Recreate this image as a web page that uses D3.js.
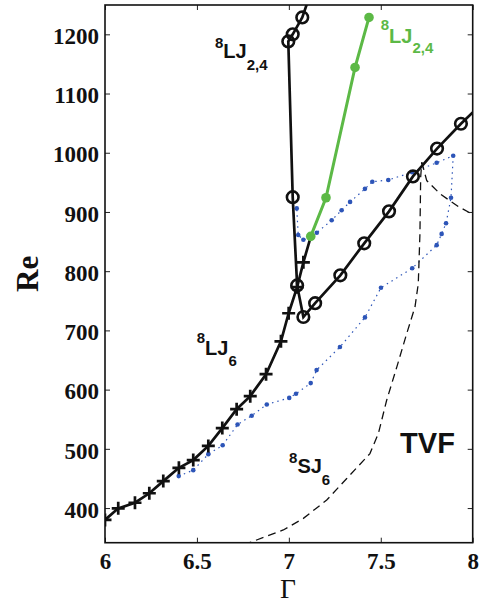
<!DOCTYPE html>
<html lang="en">
<head>
<meta charset="utf-8">
<title>Re vs Gamma</title>
<script src="https://cdn.jsdelivr.net/npm/d3@7"></script>
<style>
  body {margin: 0; background: white;}
  svg {display: block; background: white;}
  .tick text {font-family: "Liberation Serif", "Times New Roman", serif; font-weight: bold; font-size: 23px; fill: #111;}
  .lbl {font-family: "Liberation Sans", Arial, sans-serif; font-weight: bold;}
</style>
</head>
<body>
<svg width="482" height="604"></svg>
<script>
// tick values
var gammaTicks = [6, 6.5, 7, 7.5, 8];
var reTicks = [400, 500, 600, 700, 800, 900, 1000, 1100, 1200];

// 8LJ6 branch (crosses), last point joins the green branch
var crossGamma = [6.0, 6.072, 6.163, 6.241, 6.317, 6.402, 6.48, 6.562, 6.638, 6.716, 6.79, 6.876, 6.957, 6.999, 7.045, 7.079, 7.119];
var crossRe    = [380, 399.5, 409, 425, 445.5, 468, 481, 505, 535, 567, 589, 626, 681.6, 729, 773, 815, 858];

// 8LJ2,4 black branch (open circles), first and last points run off the frame
var circGamma = [7.11, 7.073, 7.021, 6.997, 7.021, 7.045, 7.079, 7.143, 7.28, 7.41, 7.545, 7.675, 7.806, 7.936, 8.0];
var circRe    = [1262, 1228.5, 1200, 1188, 925, 776, 722.6, 746, 793, 847, 901, 960, 1007, 1049, 1068];
var circHasMarker = [false, true, true, true, true, true, true, true, true, true, true, true, true, true, false];

// 8LJ2,4 green branch
var greenGamma = [7.119, 7.202, 7.36, 7.436];
var greenRe    = [858.7, 924, 1144, 1228.5];

// blue dotted loop
var blueGamma = [6.401, 6.480, 6.562, 6.640, 6.721, 6.798, 6.880, 7.002, 7.039, 7.119, 7.151, 7.278, 7.414, 7.501, 7.671, 7.804, 7.831, 7.855, 7.882, 7.894,
                 7.804, 7.67, 7.541, 7.454, 7.414, 7.333, 7.287, 7.233, 7.152, 7.124, 7.079, 7.051, 7.043];
var blueRe    = [454, 464, 491, 506, 541, 556, 575, 586, 593, 611, 633, 672, 722, 772, 805, 844, 863, 881, 924, 995,
                 983, 967, 954, 951, 939, 917, 903, 886, 865, 856, 853, 861, 906];

// 8SJ6 dashed boundary and its kink toward the right edge
var sjGamma = [6.76, 6.79, 6.970, 7.079, 7.206, 7.315, 7.441, 7.487, 7.532, 7.587, 7.641, 7.686, 7.704, 7.713, 7.717, 7.723];
var sjRe    = [335, 342, 363, 382.6, 413.5, 450, 492, 526, 582, 638, 694.6, 739.5, 779, 863, 958.7, 984];
var kinkGamma = [7.723, 7.75, 7.822, 7.922, 8.0];
var kinkRe    = [984, 953, 930.7, 909, 896];

var svg = d3.select('svg');
var mLeft = 105, mRight = 472.7, mTop = 5, mBottom = 542.7;

var x = d3.scaleLinear().domain([6, 8]).range([mLeft, mRight]);
var y = d3.scaleLinear().domain([341.5, 1249.5]).range([mBottom, mTop]);

svg.append('clipPath').attr('id', 'clip')
  .append('rect').attr('x', mLeft).attr('y', mTop).attr('width', mRight - mLeft).attr('height', mBottom - mTop);

var plot = svg.append('g').attr('clip-path', 'url(#clip)');

function pts(gs, rs) {
  return gs.map(function(g, i) { return [g, rs[i]]; });
}
var line = d3.line().x(function(d) { return x(d[0]); }).y(function(d) { return y(d[1]); });

var blue = '#2d55b8', green = '#5cb946';

// blue dotted loop
var bluePts = pts(blueGamma, blueRe);
plot.append('path').attr('d', line(bluePts))
  .attr('fill', 'none').attr('stroke', blue).attr('stroke-width', 1.2)
  .attr('stroke-dasharray', '1.5,4');
plot.selectAll('circle.bdot').data(bluePts).enter()
  .append('circle').attr('class', 'bdot')
  .attr('cx', function(d) { return x(d[0]); })
  .attr('cy', function(d) { return y(d[1]); })
  .attr('r', 2.3).attr('fill', blue);

// dashed lines
plot.append('path').attr('d', line(pts(sjGamma, sjRe)))
  .attr('fill', 'none').attr('stroke', '#111').attr('stroke-width', 1.3)
  .attr('stroke-dasharray', '8,5');
plot.append('path').attr('d', line(pts(kinkGamma, kinkRe)))
  .attr('fill', 'none').attr('stroke', '#111').attr('stroke-width', 1.3)
  .attr('stroke-dasharray', '8,5');

// crosses branch
var crossPts = pts(crossGamma, crossRe);
plot.append('path').attr('d', line(crossPts))
  .attr('fill', 'none').attr('stroke', '#111').attr('stroke-width', 2.7);
plot.selectAll('path.cross').data(crossPts.slice(0, -1)).enter()
  .append('path').attr('class', 'cross')
  .attr('transform', function(d) { return 'translate(' + x(d[0]) + ',' + y(d[1]) + ')'; })
  .attr('d', 'M-6.5,0H6.5M0,-6.5V6.5')
  .attr('stroke', '#111').attr('stroke-width', 2.7);

// circles branch
var circPts = pts(circGamma, circRe);
plot.append('path').attr('d', line(circPts))
  .attr('fill', 'none').attr('stroke', '#111').attr('stroke-width', 2.7);
plot.selectAll('circle.ring').data(circPts.filter(function(d, i) { return circHasMarker[i]; })).enter()
  .append('circle').attr('class', 'ring')
  .attr('cx', function(d) { return x(d[0]); })
  .attr('cy', function(d) { return y(d[1]); })
  .attr('r', 5.8).attr('fill', 'none').attr('stroke', '#111').attr('stroke-width', 2.6);

// green branch
var greenPts = pts(greenGamma, greenRe);
plot.append('path').attr('d', line(greenPts))
  .attr('fill', 'none').attr('stroke', green).attr('stroke-width', 3);
plot.selectAll('circle.gdot').data(greenPts).enter()
  .append('circle').attr('class', 'gdot')
  .attr('cx', function(d) { return x(d[0]); })
  .attr('cy', function(d) { return y(d[1]); })
  .attr('r', 4.8).attr('fill', green);

// axes (ticks inward on all sides)
svg.append('g').attr('transform', 'translate(0,' + mBottom + ')')
  .call(d3.axisBottom(x).tickValues(gammaTicks).tickSizeInner(-5).tickSizeOuter(0).tickPadding(9.5)
    .tickFormat(d3.format('')));
var yAxis = svg.append('g').attr('transform', 'translate(' + mLeft + ',0)')
  .call(d3.axisLeft(y).tickValues(reTicks).tickSizeInner(-5).tickSizeOuter(0).tickPadding(6)
    .tickFormat(d3.format('d')));
yAxis.selectAll('text').attr('dy', '0.4em');
svg.append('g').attr('transform', 'translate(0,' + mTop + ')')
  .call(d3.axisTop(x).tickValues(gammaTicks).tickSizeInner(-5).tickSizeOuter(0).tickFormat(''));
svg.append('g').attr('transform', 'translate(' + mRight + ',0)')
  .call(d3.axisRight(y).tickValues(reTicks).tickSizeInner(-5).tickSizeOuter(0).tickFormat(''));
svg.selectAll('.domain').remove();
svg.selectAll('.tick line').attr('stroke', '#222').attr('stroke-width', 1);

svg.append('rect').attr('x', mLeft).attr('y', mTop).attr('width', mRight - mLeft).attr('height', mBottom - mTop)
  .attr('fill', 'none').attr('stroke', '#111').attr('stroke-width', 1.6);

// axis titles
svg.append('text').text('Re')
  .attr('transform', 'translate(38,' + ((mTop + mBottom) / 2) + ') rotate(-90)')
  .attr('text-anchor', 'middle')
  .style('font-family', '"Liberation Serif", serif').style('font-weight', 'bold').style('font-size', '31px').attr('fill', '#111');
svg.append('text').text('Γ')
  .attr('x', (mLeft + mRight) / 2 - 1).attr('y', 598)
  .attr('text-anchor', 'middle')
  .style('font-family', '"Liberation Serif", serif').style('font-size', '27.5px').attr('fill', '#111');

// curve labels: [gamma, re, superscript, main, subscript, dy up, dy down, colour]
var labels = [
  [6.598, 1159.9, '8', 'LJ', '2,4', -10, 12, '#111'],
  [7.500, 1184.7, '8', 'LJ', '2,4', -13, 10, green],
  [6.499, 658.4, '8', 'LJ', '6', -12, 11, '#111'],
  [7.001, 458.6, '8', 'SJ', '6', -10, 12, '#111']
];
labels.forEach(function(l) {
  var t = svg.append('text').attr('class', 'lbl')
    .attr('x', x(l[0])).attr('y', y(l[1])).attr('fill', l[7]);
  t.append('tspan').text(l[2]).attr('dy', l[5]).style('font-size', '15px');
  t.append('tspan').text(l[3]).attr('dy', -l[5]).style('font-size', '20px');
  t.append('tspan').text(l[4]).attr('dy', l[6]).style('font-size', '15px');
});
svg.append('text').attr('class', 'lbl').text('TVF')
  .attr('x', x(7.605)).attr('y', y(492.4))
  .style('font-size', '29px').attr('fill', '#111');
</script>
</body>
</html>
